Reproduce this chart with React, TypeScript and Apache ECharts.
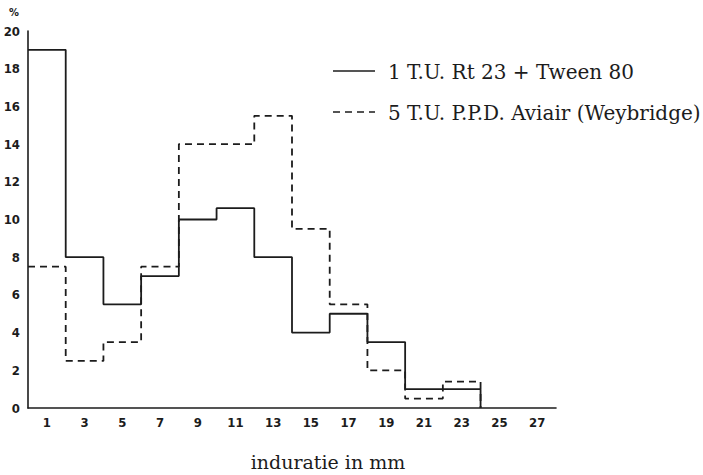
import React, { useEffect, useRef } from "react";
import * as echarts from "echarts";

// Induration classes (mm), 2 mm wide, starting at the left edge of each bin
const binStarts = [0, 2, 4, 6, 8, 10, 12, 14, 16, 18, 20, 22];
const binEnd = 24;
// Percentage of subjects per induration class
const rt23Tween = [19, 8, 5.5, 7, 10, 10.6, 8, 4, 5, 3.5, 1, 1];
const ppdAviair = [7.5, 2.5, 3.5, 7.5, 14, 14, 15.5, 9.5, 5.5, 2, 0.5, 1.4];
// Tick labels placed at the bin centres
const xTickValues = [1, 3, 5, 7, 9, 11, 13, 15, 17, 19, 21, 23, 25, 27];
const seriesNames = ["1 T.U. Rt 23 + Tween 80", "5 T.U. P.P.D. Aviair (Weybridge)"];

const INK = "#1c1c1c";
const TICK_FONT = "'Liberation Sans Narrow', 'DejaVu Sans Condensed', Arial, sans-serif";
const SERIF = "'DejaVu Serif', 'Liberation Serif', serif";

function stepData(values: number[]) {
  const pts = binStarts.map((x, i) => [x, values[i]]);
  pts.push([binEnd, 0]);
  return pts;
}

export default function App() {
  const ref = useRef<HTMLDivElement>(null);

  useEffect(() => {
    if (!ref.current) return;
    const chart = echarts.init(ref.current, null, { renderer: "svg" });
    chart.setOption({
      animation: false,
      backgroundColor: "#ffffff",
      grid: { left: 28, top: 31, right: 147, bottom: 67, containLabel: false },
      xAxis: {
        type: "value",
        min: 0,
        max: 28,
        axisLine: { show: true, lineStyle: { color: INK, width: 1.6 } },
        axisTick: { show: false },
        splitLine: { show: false },
        axisLabel: {
          customValues: xTickValues,
          color: INK,
          fontFamily: TICK_FONT,
          fontWeight: "bold",
          fontSize: 13,
          margin: 8,
        },
      },
      yAxis: {
        type: "value",
        min: 0,
        max: 20,
        interval: 2,
        axisLine: { show: true, lineStyle: { color: INK, width: 1.6 } },
        axisTick: { show: false },
        splitLine: { show: false },
        axisLabel: {
          color: INK,
          fontFamily: TICK_FONT,
          fontWeight: "bold",
          fontSize: 13,
          margin: 8,
        },
      },
      series: [
        {
          name: seriesNames[0],
          type: "line",
          step: "end",
          showSymbol: false,
          symbol: "none",
          data: stepData(rt23Tween),
          lineStyle: { color: INK, width: 1.8 },
          z: 3,
        },
        {
          name: seriesNames[1],
          type: "line",
          step: "end",
          showSymbol: false,
          symbol: "none",
          data: stepData(ppdAviair),
          lineStyle: { color: INK, width: 1.8, type: [7, 5] },
          z: 2,
        },
      ],
      graphic: [
        {
          type: "text",
          left: 9,
          top: 7,
          style: { text: "%", fill: INK, font: `bold 11px ${TICK_FONT}` },
        },
        {
          type: "line",
          shape: { x1: 333, y1: 71, x2: 375, y2: 71 },
          style: { stroke: INK, lineWidth: 1.6 },
        },
        {
          type: "text",
          x: 388,
          y: 72,
          style: {
            text: seriesNames[0],
            fill: INK,
            font: `20px ${SERIF}`,
            textVerticalAlign: "middle",
          },
        },
        {
          type: "line",
          shape: { x1: 333, y1: 112, x2: 375, y2: 112 },
          style: { stroke: INK, lineWidth: 1.6, lineDash: [7, 5] },
        },
        {
          type: "text",
          x: 388,
          y: 113,
          style: {
            text: seriesNames[1],
            fill: INK,
            font: `20px ${SERIF}`,
            textVerticalAlign: "middle",
          },
        },
        {
          type: "text",
          x: 328,
          y: 462,
          style: {
            text: "induratie in mm",
            fill: INK,
            font: `19px ${SERIF}`,
            textAlign: "center",
            textVerticalAlign: "middle",
          },
        },
      ],
    });
    return () => chart.dispose();
  }, []);

  return (
    <div
      ref={ref}
      style={{ position: "absolute", left: 0, top: 0, width: 703, height: 475 }}
    />
  );
}
